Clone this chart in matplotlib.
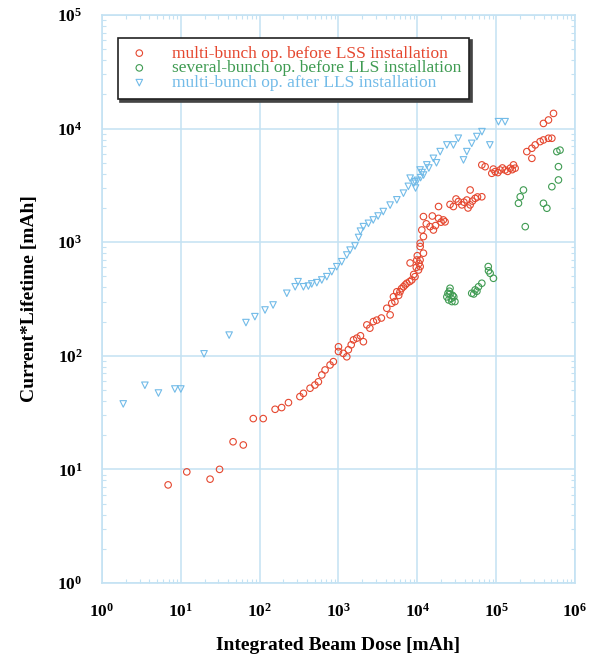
import numpy as np
import matplotlib
matplotlib.use("Agg")
import matplotlib.pyplot as plt
from matplotlib.ticker import FixedLocator, FixedFormatter, LogLocator, NullFormatter

plt.rcParams['font.family'] = ['Liberation Serif', 'DejaVu Serif']
plt.rcParams['mathtext.fontset'] = 'custom'
plt.rcParams['mathtext.rm'] = 'Liberation Serif:bold'
plt.rcParams['mathtext.bf'] = 'Liberation Serif:bold'

# ---------------------------------------------------------------
# data (mAh)
# ---------------------------------------------------------------
red_x = [6.9, 11.9, 23.5, 31, 46, 62, 83, 111, 157, 190, 232, 324, 359, 436, 502, 556,
         614, 676, 782, 861, 1000, 1000, 1274, 1335, 1550, 1710, 2070, 2290, 2770, 3060,
         4520, 4100, 4740, 4980, 5490, 6030, 6660, 7360, 8510, 9340, 10350, 10840, 8100,
         9860, 10870, 10870, 11960, 10870, 11960, 11400, 11960, 14500, 16000, 18600, 21400,
         22500, 18600, 28700, 33200, 36700, 42500, 46800, 54100, 65800, 46800, 65800, 72500,
         88100, 97100, 112000, 130000, 151000, 174000, 166000, 245000, 284000, 313000,
         361000, 398000, 461000, 509000, 284000, 398000, 461000, 534000,
         1150, 1450, 1900, 2500, 3500, 5200, 5800, 6300, 7000, 8000, 9000, 9700, 10000,
         10500, 13000, 17000, 20000, 15500, 26000, 31000, 39000, 44000, 50000, 58000,
         92000, 105000, 120000, 140000, 160000]
red_y = [7.3, 9.5, 8.2, 10.0, 17.5, 16.4, 28, 28, 33.8, 35, 38.7, 43.7, 46.7, 51.8, 55.3, 59,
         67.8, 75, 83, 88.8, 120, 109, 98, 113, 138, 143, 133, 187, 200, 206,
         229, 262, 290, 331, 366, 366, 405, 435, 465, 497, 569, 697, 656,
         697, 610, 915, 800, 980, 1120, 1280, 1680, 1370, 1280, 1620, 1570,
         1510, 2060, 2060, 2280, 2130, 2350, 2130, 2430, 2510, 2880, 4790, 4620,
         4040, 4180, 4320, 4320, 4480, 4480, 4790, 6270, 6710, 7180,
         7680, 7940, 8220, 8220, 5470, 11100, 11900, 13600,
         105, 125, 150, 175, 215, 300, 340, 390, 420, 450, 520, 600, 760,
         650, 1450, 1400, 1500, 1700, 2150, 2400, 2250, 2000, 2300, 2500,
         4400, 4100, 4500, 4200, 4350]

green_x = [23700, 25000, 26000, 27000, 28000, 30000, 24500, 27500, 29000, 26000, 25500,
           49000, 54100, 59700, 65800, 52000, 57000,
           79400, 83900, 92400, 80000,
           222000, 202000, 192000, 234000, 398000, 440000, 509000, 617000, 617000,
           589000, 646000]
green_y = [330, 310, 350, 320, 340, 300, 355, 300, 330, 393, 370,
           355, 380, 405, 435, 350, 370,
           610, 532, 481, 560,
           2880, 2510, 2200, 1370, 2200, 1990, 3080, 3530, 4620,
           6270, 6460]

blue_x = [1.86, 3.5, 5.2, 8.4, 10.0, 19.7, 41, 67, 87, 117, 148, 221, 282, 307,
          359, 415, 458, 531, 614, 711, 822, 951, 1100, 1275, 1403, 1620, 1800, 1900,
          2070, 2400, 2760, 3180, 3700, 4520, 5500, 6670, 7700, 9340,
          8110, 10860, 13200, 16000, 19500, 23700, 28700, 33100, 38500, 42500, 49000,
          56900, 66100, 83200, 107000, 130000,
          9000, 10000, 11000, 12000, 9500, 11500, 14000, 17500]
blue_y = [37.7, 55, 47, 51, 51, 104, 152, 196, 221, 253, 280, 355, 405, 449,
          405, 411, 429, 440, 465, 497, 550, 608, 673, 771, 851, 927, 1100, 1250,
          1370, 1465, 1570, 1700, 1860, 2120, 2360, 2700, 3100, 3410,
          3660, 4320, 4790, 5470, 6270, 7180, 7180, 8220, 5300, 6270, 7410,
          8510, 9400, 7180, 11500, 11500,
          3300, 3500, 3700, 3900, 3000, 4100, 4500, 5000]

labels = ['multi-bunch op. before LSS installation',
          'several-bunch op. before LLS installation',
          'multi-bunch op. after LLS installation']
colors = ['#e5472f', '#3f9b52', '#72bbe8']
decades = [0, 1, 2, 3, 4, 5, 6]

grid_c = '#c4e2f3'

fig = plt.figure(figsize=(5.93, 6.69), dpi=100)
ax = fig.add_axes([0.172, 0.1286, 0.7976, 0.849])

ax.scatter(red_x, red_y, s=22, marker='o', facecolors='none', edgecolors=colors[0],
           linewidths=0.8, label=labels[0], zorder=3)
ax.scatter(green_x, green_y, s=22, marker='o', facecolors='none', edgecolors=colors[1],
           linewidths=0.8, label=labels[1], zorder=3)
ax.scatter(blue_x, blue_y, s=22, marker='v', facecolors='none', edgecolors=colors[2],
           linewidths=0.8, label=labels[2], zorder=3)

ax.set_xscale('log')
ax.set_yscale('log')
ax.set_xlim(1, 1e6)
ax.set_ylim(1, 1e5)

ax.xaxis.set_major_locator(FixedLocator([10.0 ** d for d in decades]))
ax.xaxis.set_major_formatter(FixedFormatter([r'$\mathbf{10^{%d}}$' % d for d in decades]))
ax.yaxis.set_major_locator(FixedLocator([10.0 ** d for d in decades[:6]]))
ax.yaxis.set_major_formatter(FixedFormatter([r'$\mathbf{10^{%d}}$' % d for d in decades[:6]]))
for axis in (ax.xaxis, ax.yaxis):
    axis.set_minor_locator(LogLocator(base=10, subs=np.arange(2, 10), numticks=20))
    axis.set_minor_formatter(NullFormatter())

ax.tick_params(which='both', direction='in', top=True, right=True, color=grid_c,
               labelsize=12.5, pad=14)
ax.tick_params(which='major', length=0)
ax.tick_params(which='minor', length=3, width=0.8)
for sp in ax.spines.values():
    sp.set_color(grid_c)
    sp.set_linewidth(1.2)
ax.grid(True, which='major', color=grid_c, linewidth=1.1)
ax.set_axisbelow(True)

ax.set_xlabel('Integrated Beam Dose [mAh]', fontsize=14, fontweight='bold', labelpad=12)
ax.set_ylabel('Current*Lifetime [mAh]', fontsize=14, fontweight='bold', labelpad=14)

leg = ax.legend(loc='upper left', bbox_to_anchor=(0.033, 0.96), fontsize=12.5,
                frameon=True, fancybox=False, shadow={'color': '#444444', 'alpha': 1},
                edgecolor='#222222', handletextpad=1.1, handlelength=1.6,
                labelspacing=-0.08, borderpad=0.45, borderaxespad=0)
leg.get_frame().set_linewidth(1.2)
for txt, c in zip(leg.get_texts(), colors):
    txt.set_color(c)

fig.savefig('out.png', dpi=100)
